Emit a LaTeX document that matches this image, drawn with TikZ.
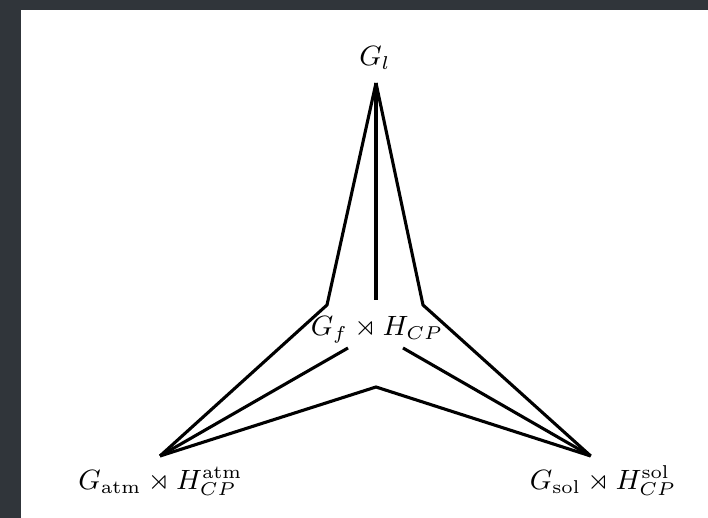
\documentclass[tikz,border=0pt]{standalone}
\usepackage{amssymb}
\definecolor{frame}{HTML}{30353A}
\tikzset{edge/.style={line width=1pt,line join=miter,black},
  lbl/.style={anchor=base,inner sep=0pt,outer sep=0pt,font=\fontsize{9.1}{11}\selectfont}}
\begin{document}
\begin{tikzpicture}[x=0.3226pt,y=-0.3226pt]
\fill[frame] (0,0) rectangle (708,518);
\fill[white] (21,10) rectangle (708,518);
\useasboundingbox (0,0) rectangle (708,518);
% labels
\node[lbl] (Gl) at (375,66) {$G_l$};
\node[lbl] (Gf) at (377,336) {$G_f \rtimes H_{CP}$};
\node[lbl] (Gatm) at (160.5,490) {$G_{\mathrm{atm}} \rtimes H_{CP}^{\mathrm{atm}}$};
\node[lbl] (Gsol) at (603,490) {$G_{\mathrm{sol}} \rtimes H_{CP}^{\mathrm{sol}}$};
% vertices
\coordinate (A) at (376,83);
\coordinate (L) at (160,456);
\coordinate (R) at (590.7,456);
\coordinate (vEnd) at (376,300);
\coordinate (lBend) at (327,305);
\coordinate (rBend) at (423,305);
\coordinate (lIn) at (348,348);
\coordinate (rIn) at (403,348);
\coordinate (mid) at (376,387);
% edges
\draw[edge] (A) -- (vEnd);
\draw[edge] (A) -- (lBend) -- (L);
\draw[edge] (A) -- (rBend) -- (R);
\draw[edge] (L) -- (lIn);
\draw[edge] (R) -- (rIn);
\draw[edge] (L) -- (mid) -- (R);
\end{tikzpicture}
\end{document}
